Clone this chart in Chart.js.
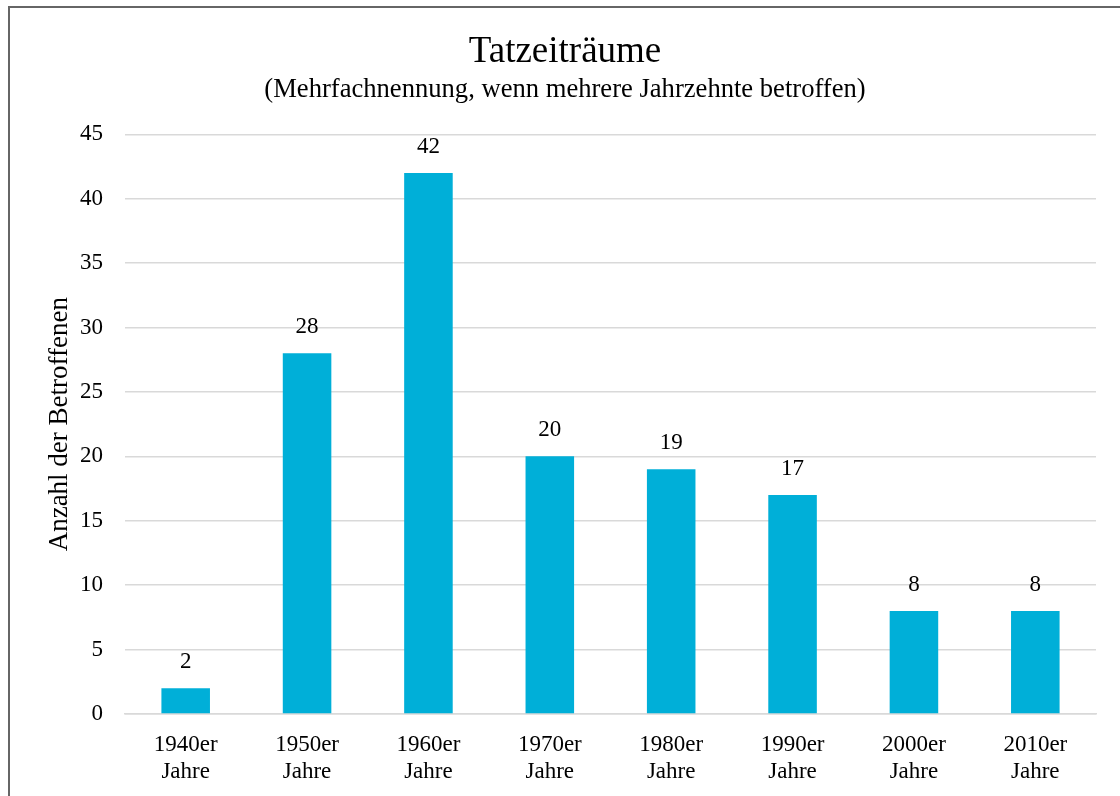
<!DOCTYPE html>
<html>
<head>
<meta charset="utf-8">
<script src="https://cdn.jsdelivr.net/npm/chart.js@4"></script>
<style>
  html, body { margin: 0; padding: 0; background: #fff; overflow: hidden; }
  #wrap { position: relative; width: 1120px; height: 796px; }
  #frame { position: absolute; left: 8px; top: 6px; width: 1200px; height: 900px; border: 2px solid #666; box-sizing: border-box; pointer-events: none; }
  canvas { position: absolute; left: 0; top: 0; }
</style>
</head>
<body>
<div id="wrap">
  <canvas id="c" width="1120" height="796"></canvas>
  <div id="frame"></div>
</div>
<script>
const titleText = 'Tatzeiträume';
const subtitleText = '(Mehrfachnennung, wenn mehrere Jahrzehnte betroffen)';
const yAxisTitle = 'Anzahl der Betroffenen';
const categories = [
  ['1940er', 'Jahre'], ['1950er', 'Jahre'], ['1960er', 'Jahre'], ['1970er', 'Jahre'],
  ['1980er', 'Jahre'], ['1990er', 'Jahre'], ['2000er', 'Jahre'], ['2010er', 'Jahre']
];
const values = [2, 28, 42, 20, 19, 17, 8, 8];
const yTicksMax = 45;
const yTickStep = 5;

const FONT = "'Liberation Serif', 'Times New Roman', serif";

const dataLabels = {
  id: 'dataLabels',
  afterDatasetsDraw(chart) {
    const ctx = chart.ctx;
    const meta = chart.getDatasetMeta(0);
    ctx.save();
    ctx.font = '23px ' + FONT;
    ctx.fillStyle = '#000';
    ctx.textAlign = 'center';
    ctx.textBaseline = 'middle';
    meta.data.forEach((bar, i) => {
      ctx.fillText(String(values[i]), bar.x, bar.y - 26);
    });
    ctx.restore();
  }
};

new Chart(document.getElementById('c'), {
  type: 'bar',
  data: {
    labels: categories,
    datasets: [{
      data: values,
      backgroundColor: '#00AFD8',
      borderWidth: 0,
      categoryPercentage: 1.0,
      barPercentage: 0.4
    }]
  },
  options: {
    responsive: false,
    animation: false,
    devicePixelRatio: 1,
    layout: { padding: { left: 34, right: 24, top: 0, bottom: 0 } },
    plugins: {
      legend: { display: false },
      tooltip: { enabled: false },
      title: {
        display: true,
        text: titleText,
        color: '#000',
        font: { family: FONT, size: 37, weight: 'normal', lineHeight: 1.2 },
        padding: { top: 30, bottom: 0 }
      },
      subtitle: {
        display: true,
        text: subtitleText,
        color: '#000',
        font: { family: FONT, size: 26.6, weight: 'normal', lineHeight: 1.2 },
        padding: { top: 0, bottom: 28 }
      }
    },
    scales: {
      x: {
        grid: { display: false, drawTicks: false },
        border: { display: true, color: '#d9d9d9', width: 1.5 },
        ticks: {
          color: '#000',
          font: { family: FONT, size: 23, lineHeight: 1.2 },
          padding: 17,
          maxRotation: 0,
          autoSkip: false
        },
        afterFit(scale) { scale.height = 82; }
      },
      y: {
        min: 0,
        max: yTicksMax,
        grid: { color: '#d9d9d9', lineWidth: 1.5, drawTicks: false },
        border: { display: false },
        ticks: {
          stepSize: yTickStep,
          color: '#000',
          font: { family: FONT, size: 23 },
          padding: 22
        },
        title: {
          display: true,
          text: yAxisTitle,
          color: '#000',
          font: { family: FONT, size: 27, lineHeight: 1.2 },
          padding: { top: 10, bottom: 0 }
        },
        afterFit(scale) { scale.width = 91; }
      }
    }
  },
  plugins: [dataLabels]
});
</script>
</body>
</html>
